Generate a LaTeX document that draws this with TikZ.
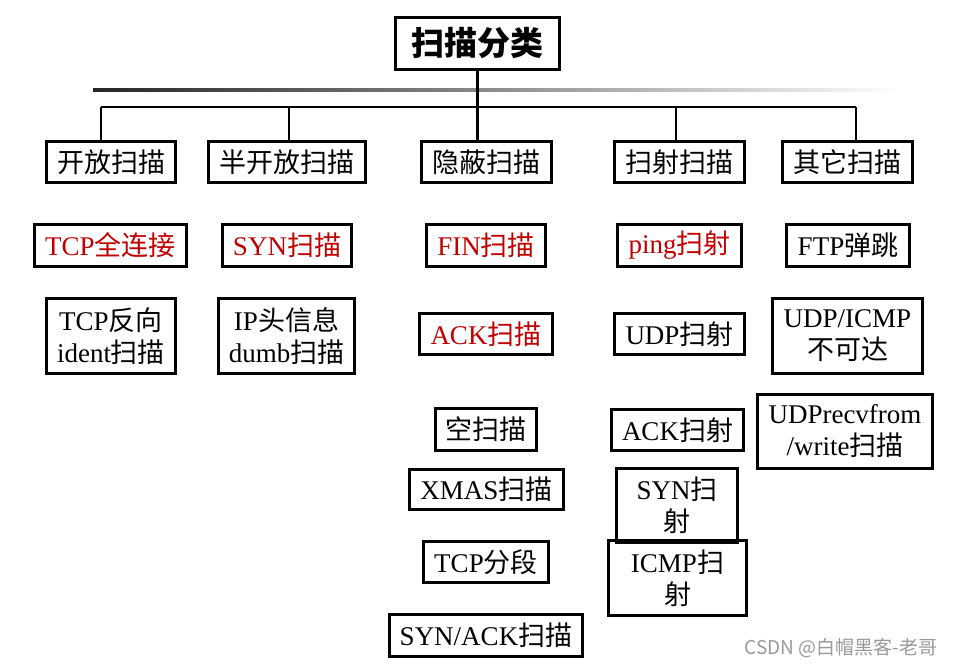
\documentclass[tikz,border=0pt]{standalone}
\usepackage{fontspec}
\setmainfont{Liberation Serif}
\newfontfamily\cjk{Noto Sans CJK SC}
\newfontfamily\wmfont{Noto Sans CJK SC}
\newcommand\zh[1]{{\cjk #1}}
\definecolor{redtxt}{RGB}{192,0,0}
\begin{document}
\begin{tikzpicture}[x=1pt,y=-1pt,
  box/.style={draw, line width=2.6pt, inner sep=0pt, align=center,
    font=\fontsize{27}{32}\selectfont},
  hot/.style={text=redtxt},
  link/.style={line width=2.8pt}]
\useasboundingbox (0,0) rectangle (956,667);
% title
\node[box, minimum width=164pt, minimum height=52pt, font=\cjk\bfseries\fontsize{33}{36}\selectfont] (title) at (477.5,43.5) {扫描分类};
% gradient rule
\shade[left color=black!85, right color=black!55] (93,88.5) rectangle (400,91.5);
\shade[left color=black!55, right color=white] (400,88.5) rectangle (900,91.5);
% level 1
\node[box, minimum width=129pt, minimum height=41pt] (a1) at (111,162) {\zh{开放扫描}};
\node[box, minimum width=157pt, minimum height=41pt] (a2) at (287,162) {\zh{半开放扫描}};
\node[box, minimum width=130pt, minimum height=41pt] (a3) at (486.5,162) {\zh{隐蔽扫描}};
\node[box, minimum width=130pt, minimum height=41pt] (a4) at (679.5,162) {\zh{扫射扫描}};
\node[box, minimum width=130pt, minimum height=41pt] (a5) at (847.5,162) {\zh{其它扫描}};
% level 2
\node[box, hot, minimum width=152pt, minimum height=42pt] (b1) at (110.5,245.5) {TCP\zh{全连接}};
\node[box, hot, minimum width=129pt, minimum height=42pt] (b2) at (287,245.5) {SYN\zh{扫描}};
\node[box, hot, minimum width=119pt, minimum height=42pt] (b3) at (486,245.5) {FIN\zh{扫描}};
\node[box, hot, minimum width=124pt, minimum height=42pt] (b4) at (679.5,245.5) {ping\zh{扫射}};
\node[box, minimum width=123pt, minimum height=42pt] (b5) at (848,245.5) {FTP\zh{弹跳}};
% level 3
\node[box, minimum width=129pt, minimum height=75pt] (c1) at (111,336) {TCP\zh{反向}\\ident\zh{扫描}};
\node[box, minimum width=136pt, minimum height=75pt] (c2) at (286.5,336) {IP\zh{头信息}\\dumb\zh{扫描}};
\node[box, hot, minimum width=133pt, minimum height=41pt] (c3) at (486,334) {ACK\zh{扫描}};
\node[box, minimum width=130pt, minimum height=41pt] (c4) at (679.5,334) {UDP\zh{扫射}};
\node[box, minimum width=150pt, minimum height=75pt] (c5) at (847.5,336) {UDP/ICMP\\\zh{不可达}};
% level 4
\node[box, minimum width=101pt, minimum height=42pt] (d3) at (486,429.5) {\zh{空扫描}};
\node[box, minimum width=132pt, minimum height=41pt] (d4) at (677.5,430) {ACK\zh{扫射}};
\node[box, minimum width=175pt, minimum height=74pt] (d5) at (845,431.5) {UDPrecvfrom\\/write\zh{扫描}};
% level 5+
\node[box, minimum width=154pt, minimum height=40pt] (e3) at (486.5,489.5) {XMAS\zh{扫描}};
\node[box, minimum width=121pt, minimum height=74pt] (e4) at (677,505.5) {SYN\zh{扫}\\\zh{射}};
\node[box, minimum width=125pt, minimum height=41pt] (f3) at (486,562) {TCP\zh{分段}};
\node[box, minimum width=138pt, minimum height=75pt] (f4) at (677.5,578) {ICMP\zh{扫}\\\zh{射}};
\node[box, minimum width=193pt, minimum height=42pt] (g3) at (486,635.5) {SYN/ACK\zh{扫描}};
% connectors
\coordinate (bus) at (477.5,107);
\coordinate (t1) at (101,107);
\coordinate (t2) at (289,107);
\coordinate (t4) at (676,107);
\coordinate (t5) at (856,107);
\draw[link] (title.south) -- (bus);
\draw[link] (t1) -- (t5);
\draw[link] (t1) -- (t1 |- a1.north);
\draw[link] (t2) -- (t2 |- a2.north);
\draw[link] (bus) -- (bus |- a3.north);
\draw[link] (t4) -- (t4 |- a4.north);
\draw[link] (t5) -- (t5 |- a5.north);
% watermark
\node[text=black!40, font=\wmfont\fontsize{19}{21}\selectfont] (wm) at (841,648) {CSDN @白帽黑客-老哥};
\end{tikzpicture}
\end{document}
